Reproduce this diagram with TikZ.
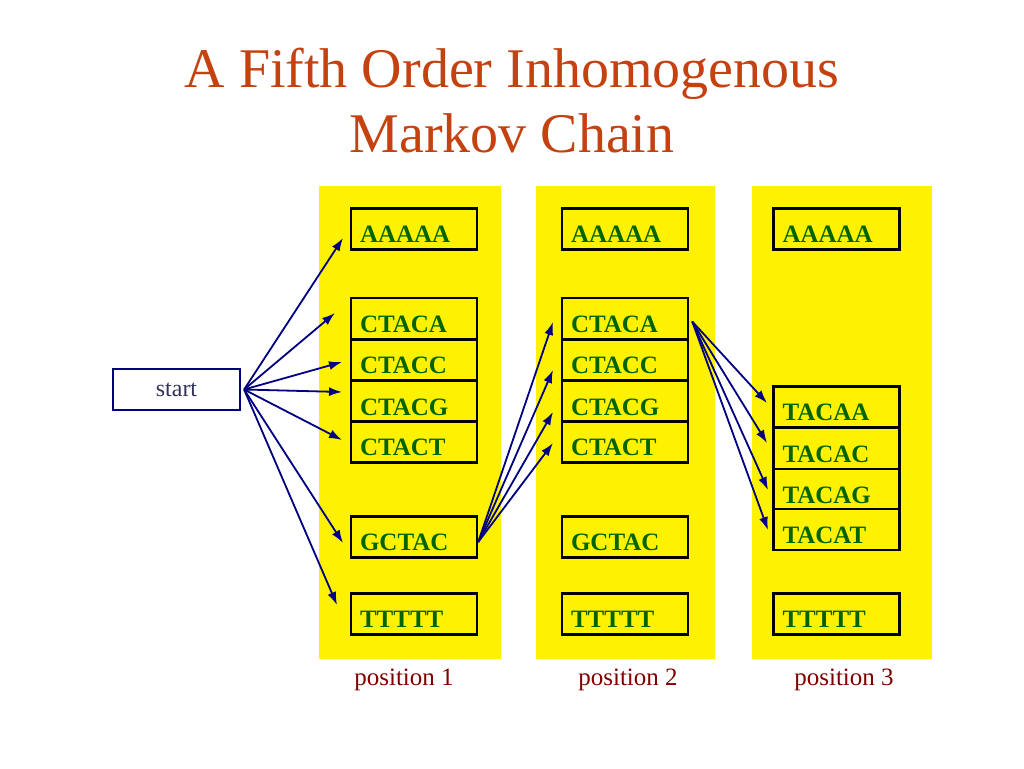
\documentclass[tikz,border=0pt]{standalone}
\usepackage{fontspec}
\setmainfont{Liberation Serif}
\usetikzlibrary{arrows.meta}
\definecolor{titlered}{RGB}{196,66,16}
\definecolor{seqgreen}{RGB}{0,100,0}
\definecolor{posred}{RGB}{128,0,0}
\definecolor{arrowblue}{RGB}{0,0,128}
\definecolor{startgray}{RGB}{50,50,90}

\begin{document}
\begin{tikzpicture}[x=1pt,y=-1pt,
  seq/.style={draw=black, line width=2.4pt, fill=yellow,
    minimum width=126pt, minimum height=41pt, text width=108pt,
    inner xsep=9pt, inner ysep=0pt, text height=27pt, text depth=0pt,
    align=left, text=seqgreen, font=\fontsize{25}{25}\selectfont\bfseries},
  poslabel/.style={text=posred, font=\fontsize{25}{25}\selectfont, anchor=base},
  trans/.style={draw=arrowblue, line width=1.8pt, -{Latex[length=13pt,width=9pt]}}]
  \useasboundingbox (0,0) rectangle (1024,768);

  \node[text=titlered, font=\fontsize{56}{56}\selectfont, anchor=base] (title1) at (512,87) {A Fifth Order Inhomogenous};
  \node[text=titlered, font=\fontsize{56}{56}\selectfont, anchor=base] (title2) at (512,152) {Markov Chain};

  \fill[yellow] (319,186) rectangle (501,659);
  \fill[yellow] (536,186) rectangle (715,659);
  \fill[yellow] (752,186) rectangle (932,659);

  \node[draw=arrowblue, line width=2.2pt, minimum width=127pt, minimum height=41pt,
    text=startgray, font=\fontsize{24}{24}\selectfont] (start) at (176.5,389.5) {start};

  % position 1
  \node[seq] (a1) at (414,229) {AAAAA};
  \node[seq] (c1a) at (414,318.5) {CTACA};
  \node[seq] (c1c) at (414,360) {CTACC};
  \node[seq] (c1g) at (414,401.5) {CTACG};
  \node[seq] (c1t) at (414,442) {CTACT};
  \node[seq] (g1) at (414,537) {GCTAC};
  \node[seq] (t1) at (414,614) {TTTTT};

  % position 2
  \node[seq] (a2) at (625,229) {AAAAA};
  \node[seq] (c2a) at (625,318.5) {CTACA};
  \node[seq] (c2c) at (625,360) {CTACC};
  \node[seq] (c2g) at (625,401.5) {CTACG};
  \node[seq] (c2t) at (625,442) {CTACT};
  \node[seq] (g2) at (625,537) {GCTAC};
  \node[seq] (t2) at (625,614) {TTTTT};

  % position 3
  \node[seq] (a3) at (836.5,229) {AAAAA};
  \node[seq] (ta3) at (836.5,407) {TACAA};
  \node[seq] (tc3) at (836.5,448.5) {TACAC};
  \node[seq] (tg3) at (836.5,489.5) {TACAG};
  \node[seq] (tt3) at (836.5,529.5) {TACAT};
  \node[seq] (t3) at (836.5,614) {TTTTT};

  \node[poslabel] (pos1) at (404,685) {position 1};
  \node[poslabel] (pos2) at (628,685) {position 2};
  \node[poslabel] (pos3) at (844,685) {position 3};

  % arrow tips
  \coordinate (sa) at (343,238);
  \coordinate (sca) at (335,313);
  \coordinate (scc) at (342,362);
  \coordinate (scg) at (342,392);
  \coordinate (sct) at (342,440);
  \coordinate (sg) at (343,543);
  \coordinate (st) at (337,605);
  \coordinate (ga) at (553,322);
  \coordinate (gc) at (553,370);
  \coordinate (gg) at (553,412);
  \coordinate (gt) at (553,443);
  \coordinate (ca) at (767,403);
  \coordinate (cc) at (767,443);
  \coordinate (cg) at (768,490);
  \coordinate (ct) at (768,530);

  \foreach \tip in {sa,sca,scc,scg,sct,sg,st}
    \draw[trans] ([xshift=3pt]start.east) -- (\tip);
  \foreach \tip in {ga,gc,gg,gt}
    \draw[trans] ([yshift=-5pt]g1.east) -- (\tip);
  \foreach \tip in {ca,cc,cg,ct}
    \draw[trans] ([shift={(3pt,-3pt)}]c2a.east) -- (\tip);
\end{tikzpicture}
\end{document}
